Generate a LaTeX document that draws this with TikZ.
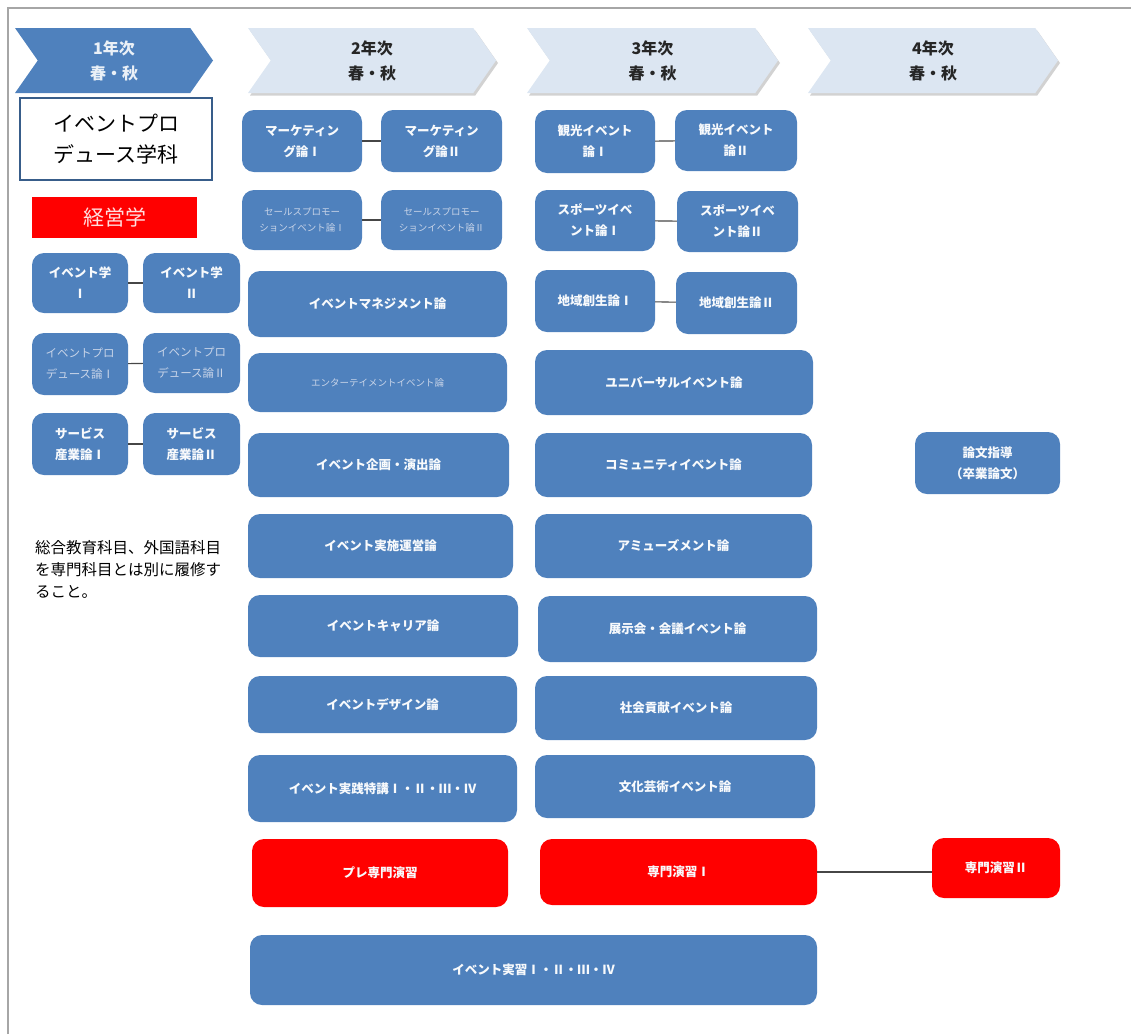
\documentclass[tikz,border=0pt]{standalone}
\usepackage{fontspec}
\setmainfont{Noto Sans CJK JP}
\usetikzlibrary{shapes.symbols,shadows}
\definecolor{crsblue}{RGB}{79,129,189}
\definecolor{hdlight}{RGB}{220,230,242}
\definecolor{ttlline}{RGB}{56,93,138}
\definecolor{dimtext}{RGB}{200,212,232}
\definecolor{linkgray}{RGB}{70,70,70}
\definecolor{keitext}{RGB}{255,222,222}
\def\fs#1#2{\fontsize{#1}{#2}\selectfont}
\tikzset{
  crs/.style={fill=crsblue, rounded corners=12pt, text=white!96!crsblue, align=center, inner sep=2pt, font=\bfseries\fs{12.5}{21}},
  dim/.style={text=dimtext},
  redcrs/.style={crs, fill=red},
  sz/.style 2 args={minimum width=#1pt, minimum height=#2pt},
  yr/.style={signal, signal to=east, signal from=west, signal pointer angle=110, align=center, inner sep=0pt, font=\bfseries\fs{16}{25}, minimum height=65pt},
  hd/.style={yr, fill=hdlight, text=black!85, drop shadow={shadow xshift=2pt, shadow yshift=-2.5pt, fill=black!35}},
  link/.style={draw=linkgray, line width=1.1pt},
}

\begin{document}
\begin{tikzpicture}[x=1pt, y=-1pt]
    \useasboundingbox (0,0) rectangle (1131,1034);
    \draw[gray!70, line width=2pt] (8,1034) -- (8,8) -- (1131,8);
    % years
    \node[yr, fill=crsblue, text=white!88!crsblue, minimum width=198pt] (y1) at (114,60.5) {1年次\\春・秋};
    \node[hd, minimum width=248pt] (y2) at (372,60.5) {2年次\\春・秋};
    \node[hd, minimum width=251pt] (y3) at (652.5,60.5) {3年次\\春・秋};
    \node[hd, minimum width=250pt] (y4) at (933,60.5) {4年次\\春・秋};
    % 1st year
    \node[draw=ttlline, line width=2.5pt, fill=white, sz={192}{82}, align=center, font=\fs{21}{31}] (dept) at (116,139) {イベントプロ\\デュース学科};
    \node[fill=red, sz={165}{41}, text=keitext, font=\fs{21}{25}] (keiei) at (114.5,217.5) {経営学};
    \node[crs, sz={96}{60}] (ev1) at (80,283) {イベント学\\Ⅰ};
    \node[crs, sz={97}{60}] (ev2) at (191.5,283) {イベント学\\Ⅱ};
    \node[crs, dim, sz={96}{62}, font=\fs{11.5}{21}] (pr1) at (80,364) {イベントプロ\\デュース論Ⅰ};
    \node[crs, dim, sz={97}{60}, font=\fs{11.5}{21}] (pr2) at (191.5,363) {イベントプロ\\デュース論Ⅱ};
    \node[crs, sz={96}{62}] (sv1) at (80,444) {サービス\\産業論Ⅰ};
    \node[crs, sz={97}{62}] (sv2) at (191.5,444) {サービス\\産業論Ⅱ};
    \node[anchor=north west, align=left, inner sep=0pt, font=\fs{15.5}{22}] (note) at (35,540) {総合教育科目、外国語科目\\を専門科目とは別に履修す\\ること。};
    % 2nd year
    \node[crs, sz={120}{62}] (mk1) at (302,141) {マーケティン\\グ論Ⅰ};
    \node[crs, sz={121}{62}] (mk2) at (441.5,141) {マーケティン\\グ論Ⅱ};
    \node[crs, dim, sz={120}{60}, font=\fs{9.5}{16}] (sp1) at (302,220) {セールスプロモー\\ションイベント論Ⅰ};
    \node[crs, dim, sz={121}{60}, font=\fs{9.5}{16}] (sp2) at (441.5,220) {セールスプロモー\\ションイベント論Ⅱ};
    \node[crs, sz={259}{66}] (mg) at (377.5,304) {イベントマネジメント論};
    \node[crs, dim, sz={259}{59}, font=\fs{9.5}{16}] (ent) at (377.5,382.5) {エンターテイメントイベント論};
    \node[crs, sz={261}{64}] (kk) at (378.5,465) {イベント企画・演出論};
    \node[crs, sz={265}{64}] (js) at (380.5,546) {イベント実施運営論};
    \node[crs, sz={270}{62}] (cr) at (383,626) {イベントキャリア論};
    \node[crs, sz={269}{57}] (ds) at (382.5,704.5) {イベントデザイン論};
    \node[crs, sz={269}{67}] (tk) at (382.5,788.5) {イベント実践特講Ⅰ・Ⅱ・Ⅲ・Ⅳ};
    \node[redcrs, sz={256}{68}] (pre) at (380,873) {プレ専門演習};
    \node[crs, sz={567}{70}] (jsh) at (533.5,970) {イベント実習Ⅰ・Ⅱ・Ⅲ・Ⅳ};
    % 3rd year
    \node[crs, sz={120}{63}] (kn1) at (595,141.5) {観光イベント\\論Ⅰ};
    \node[crs, sz={122}{61}] (kn2) at (736,140.5) {観光イベント\\論Ⅱ};
    \node[crs, sz={120}{61}] (so1) at (595,220.5) {スポーツイベ\\ント論Ⅰ};
    \node[crs, sz={121}{61}] (so2) at (737.5,221.5) {スポーツイベ\\ント論Ⅱ};
    \node[crs, sz={120}{62}] (ch1) at (595,301) {地域創生論Ⅰ};
    \node[crs, sz={121}{62}] (ch2) at (736.5,303) {地域創生論Ⅱ};
    \node[crs, sz={278}{65}] (un) at (674,382.5) {ユニバーサルイベント論};
    \node[crs, sz={277}{64}] (cm) at (673.5,465) {コミュニティイベント論};
    \node[crs, sz={277}{64}] (am) at (673.5,546) {アミューズメント論};
    \node[crs, sz={279}{66}] (tj) at (677.5,629) {展示会・会議イベント論};
    \node[crs, sz={282}{64}] (sk) at (676,708) {社会貢献イベント論};
    \node[crs, sz={280}{63}] (bk) at (675,786.5) {文化芸術イベント論};
    \node[redcrs, sz={277}{66}] (sm1) at (678.5,872) {専門演習Ⅰ};
    % 4th year
    \node[crs, sz={145}{62}] (ron) at (987.5,463) {論文指導\\（卒業論文）};
    \node[redcrs, sz={128}{60}] (sm2) at (996,868) {専門演習Ⅱ};
    % links
    \draw[link] (ev1) -- (ev2);
    \draw[link] (pr1) -- (pr2);
    \draw[link] (sv1) -- (sv2);
    \draw[link] (mk1) -- (mk2);
    \draw[link] (sp1) -- (sp2);
    \draw[link] (kn1) -- (kn2);
    \draw[link] (so1) -- (so2);
    \draw[link] (ch1) -- (ch2);
    \draw[link] (sm1.east) -- (sm1.east -| sm2.west);
\end{tikzpicture}
\end{document}
